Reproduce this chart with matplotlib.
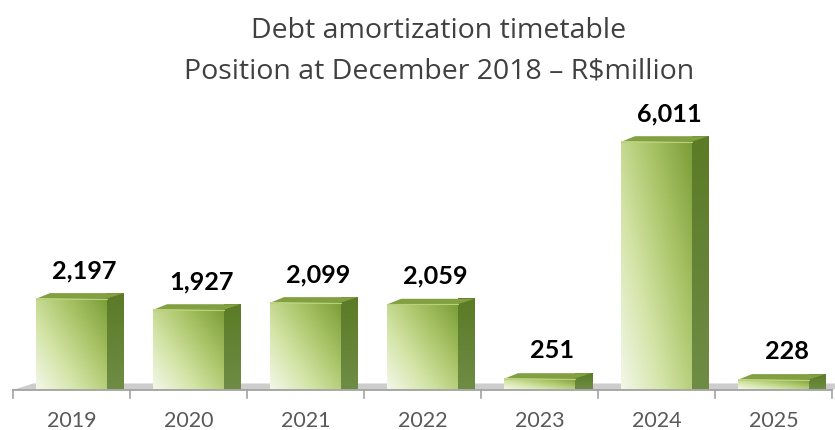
import numpy as np
import matplotlib
matplotlib.use("Agg")
import matplotlib.pyplot as plt
from matplotlib.patches import Polygon, Rectangle
from matplotlib.colors import LinearSegmentedColormap
from matplotlib.transforms import offset_copy

plt.rcParams["font.family"] = ["Lato", "DejaVu Sans"]

years = ["2019", "2020", "2021", "2022", "2023", "2024", "2025"]
amounts = [2197, 1927, 2099, 2059, 251, 6011, 228]
title_lines = ["Debt amortization timetable",
               "Position at December 2018 \u2013 R$million"]

W, H, DPI = 835, 430, 100
fig = plt.figure(figsize=(W / DPI, H / DPI), dpi=DPI)

# axes placed in pixels: left edge, bottom of bars, width, height
left_px, base_px, width_px, height_px = 13, 389, 819, 288
ax = fig.add_axes([left_px / W, (H - base_px) / H, width_px / W, height_px / H])
ax.set_facecolor("none")
XMIN, XMAX, YMAX = -0.5, len(years) - 0.5, 7000

px_x = (XMAX - XMIN) / width_px     # data units per pixel
px_y = YMAX / height_px

bar_w = 0.6
depth_x, depth_y = 17 * px_x, 5.5 * px_y

front_cmap = LinearSegmentedColormap.from_list(
    "front", ["#f3f7e8", "#d3e4a6", "#a9c467", "#7c9d38"])
side_cmap = LinearSegmentedColormap.from_list("side", ["#6f8c45", "#5b7b26"])

# floor plate
floor_back = 5.5 * px_y
floor_front = -1.0 * px_y
floor = Polygon([(XMIN, floor_front), (XMIN + 20 * px_x, floor_back),
                 (XMAX + 20 * px_x, floor_back), (XMAX, floor_front)],
                closed=True, facecolor="#cdcdcd", edgecolor="none",
                clip_on=False, zorder=1)
ax.add_patch(floor)
ax.plot([XMIN, XMAX], [floor_front, floor_front], color="#a3a3a3",
        lw=1.3, clip_on=False, zorder=1.5)
for b in np.arange(XMIN, XMAX + 0.01, 1.0):
    ax.plot([b, b], [floor_front, floor_front - 7.5 * px_y], color="#a3a3a3",
            lw=1.2, clip_on=False, zorder=1.5)

uu, ww = np.meshgrid(np.linspace(0, 1, 60), np.linspace(0, 1, 120))
front_grad = 0.55 * uu + 0.45 * ww
side_grad = np.linspace(0, 1, 120)[:, None]

for i, v in enumerate(amounts):
    x0, x1 = i - bar_w / 2, i + bar_w / 2
    # right side face
    side = Polygon([(x1, 0), (x1 + depth_x, depth_y),
                    (x1 + depth_x, v + depth_y), (x1, v)],
                   closed=True, facecolor="none", edgecolor="none",
                   clip_on=False, zorder=2)
    ax.add_patch(side)
    im = ax.imshow(side_grad, cmap=side_cmap, origin="lower", aspect="auto",
                   extent=[x1, x1 + depth_x, 0, v + depth_y], zorder=2,
                   interpolation="bilinear", clip_on=False)
    im.set_clip_path(side)
    # top face
    ax.add_patch(Polygon([(x0, v), (x0 + depth_x * 0.8, v + depth_y),
                          (x1 + depth_x, v + depth_y), (x1, v)],
                         closed=True, facecolor="#82a042", edgecolor="none",
                         clip_on=False, zorder=3))
    # front face
    face = Rectangle((x0, 0), bar_w, v, facecolor="none", edgecolor="none",
                     clip_on=False, zorder=3)
    ax.add_patch(face)
    im = ax.imshow(front_grad, cmap=front_cmap, origin="lower", aspect="auto",
                   extent=[x0, x1, 0, v], zorder=3, vmin=0, vmax=1,
                   interpolation="bilinear", clip_on=False)
    im.set_clip_path(face)
    ax.plot([x0, x1], [v, v], color="#b9d07c", lw=0.8, zorder=3.5,
            clip_on=False)

# value labels above each bar
lab_tr = offset_copy(ax.transData, fig=fig, x=13, y=28, units="dots")
for i, v in enumerate(amounts):
    ax.text(i, v, f"{v:,}", transform=lab_tr, ha="center", va="center",
            fontsize=18.2, fontweight="bold", color="#000000", zorder=5)

ax.set_xlim(XMIN, XMAX)
ax.set_ylim(0, YMAX)
ax.set_xticks(range(len(years)))
ax.set_xticklabels(years, fontsize=15.5, color="#595959")
ax.tick_params(axis="x", length=0, pad=16)
ax.set_yticks([])
for s in ax.spines.values():
    s.set_visible(False)

cx = 439 / W
title_font = ["Open Sans", "DejaVu Sans"]
fig.text(cx, 1 - 38 / H, title_lines[0], ha="center", va="baseline",
         fontsize=20.5, color="#404040", family=title_font)
fig.text(cx, 1 - 78 / H, title_lines[1], ha="center", va="baseline",
         fontsize=20.5, color="#404040", family=title_font)

fig.savefig("out.png", dpi=DPI)
